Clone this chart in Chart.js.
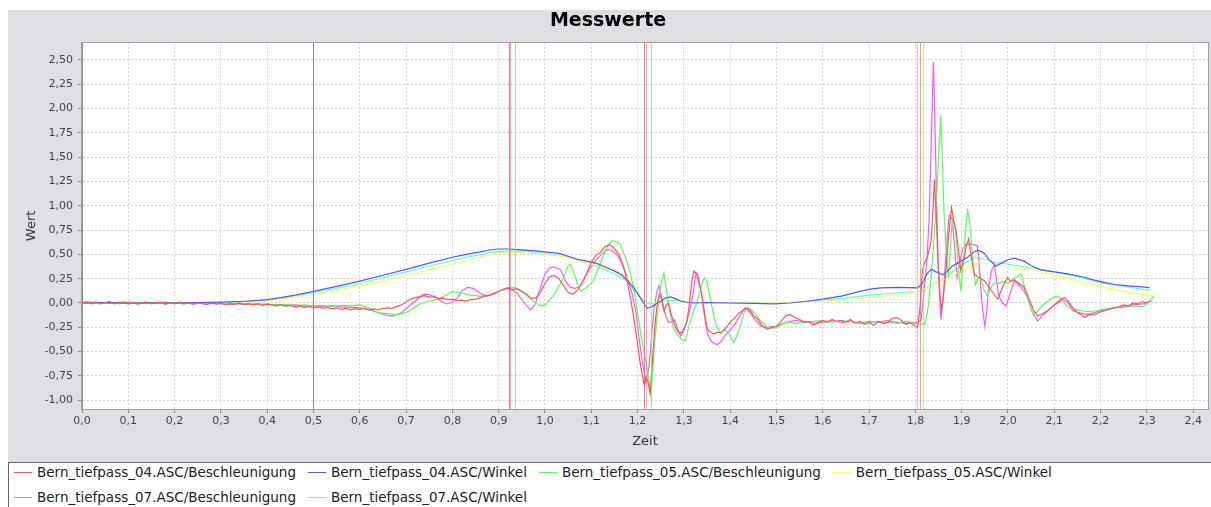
<!DOCTYPE html>
<html lang="de">
<head>
<meta charset="utf-8">
<title>Messwerte</title>
<script src="https://cdn.jsdelivr.net/npm/chart.js@4.4.1/dist/chart.umd.min.js"></script>
<style>
  html, body { margin: 0; padding: 0; background: #fff; }
  body { width: 1211px; height: 507px; position: relative; overflow: hidden; font-family: 'DejaVu Sans', sans-serif; }
  #panel { position: absolute; left: 8px; top: 10px; width: 1203px; height: 452px; background: #dfdfe3; }
  #legend {
    position: absolute; left: 8px; top: 462px; width: 1210px; height: 50px;
    background: #fff; border-top: 1px solid #666; border-left: 1px solid #666;
    box-sizing: border-box; padding: 0 0 0 5px;
    display: flex; flex-wrap: wrap; align-content: flex-start; row-gap: 7px;
    font-size: 13.5px; color: #222;
  }
  .item { display: flex; align-items: center; height: 18px; margin-right: 12px; white-space: nowrap; }
  .swatch { width: 18px; height: 1px; margin-right: 5px; }
</style>
</head>
<body>
<div id="panel"><canvas id="chart" width="1203" height="452"></canvas></div>
<div id="legend"></div>
<script>
// series names and colours (legend order)
const seriesNames = [
  'Bern_tiefpass_04.ASC/Beschleunigung',
  'Bern_tiefpass_04.ASC/Winkel',
  'Bern_tiefpass_05.ASC/Beschleunigung',
  'Bern_tiefpass_05.ASC/Winkel',
  'Bern_tiefpass_07.ASC/Beschleunigung',
  'Bern_tiefpass_07.ASC/Winkel'
];
const seriesColors = ['#ff5555', '#5555ff', '#55ff55', '#ffff55', '#ff55ff', '#55ffff'];

const xTicks = [0, 0.1, 0.2, 0.3, 0.4, 0.5, 0.6, 0.7, 0.8, 0.9, 1.0, 1.1, 1.2,
                1.3, 1.4, 1.5, 1.6, 1.7, 1.8, 1.9, 2.0, 2.1, 2.2, 2.3, 2.4];
const yTicks = [-1, -0.75, -0.5, -0.25, 0, 0.25, 0.5, 0.75, 1, 1.25, 1.5, 1.75, 2, 2.25, 2.5];

// marker lines (Zeit) and their colours
const markerTimes  = [0.5, 0.922, 0.925, 0.936, 1.214, 1.219, 1.229, 1.804, 1.809, 1.816];
const markerColors = ['#c8708e', 'rgba(255,85,85,0.8)', 'rgba(255,85,255,0.6)', 'rgba(85,255,85,0.7)',
                      'rgba(255,85,85,0.8)', 'rgba(255,85,255,0.6)', 'rgba(85,255,85,0.7)',
                      'rgba(255,85,255,0.5)', 'rgba(255,85,85,0.6)', 'rgba(85,255,85,0.6)'];

// [Zeit, Wert]
const acc04 = [
  [0,0.00],[0.01,0.015],[0.02,-0.005],[0.03,0.01],[0.04,-0.01],[0.05,0.005],[0.06,0.015],[0.07,-0.01],
  [0.08,0.0],[0.09,0.012],[0.10,-0.008],[0.11,0.006],[0.12,-0.012],[0.13,0.004],[0.14,0.01],[0.15,-0.01],
  [0.16,0.0],[0.17,0.008],[0.18,-0.014],[0.19,0.002],[0.20,-0.006],[0.21,0.008],[0.22,-0.01],[0.23,0.0],
  [0.24,-0.012],[0.25,0.004],[0.26,-0.008],[0.27,-0.016],[0.28,0.0],[0.29,-0.012],[0.30,-0.004],[0.31,-0.018],
  [0.32,-0.006],[0.33,-0.014],[0.34,-0.002],[0.35,-0.016],[0.36,-0.008],[0.37,-0.02],[0.38,-0.01],[0.39,-0.024],
  [0.40,-0.012],[0.41,-0.02],[0.42,-0.03],[0.43,-0.018],[0.44,-0.034],[0.45,-0.026],[0.46,-0.04],[0.47,-0.03],
  [0.48,-0.045],[0.49,-0.035],[0.50,-0.05],[0.51,-0.04],[0.52,-0.055],[0.53,-0.045],[0.54,-0.06],[0.55,-0.05],
  [0.56,-0.065],[0.57,-0.055],[0.58,-0.07],[0.59,-0.058],[0.60,-0.066],[0.61,-0.052],[0.62,-0.07],[0.63,-0.06],
  [0.64,-0.072],[0.65,-0.058],[0.66,-0.05],[0.67,-0.055],[0.68,-0.035],[0.69,-0.02],[0.70,0.01],[0.71,0.04],
  [0.72,0.055],[0.73,0.065],[0.74,0.075],[0.75,0.06],[0.76,0.065],[0.77,0.045],[0.78,0.05],[0.79,0.035],
  [0.80,0.04],[0.81,0.025],[0.82,0.03],[0.83,0.02],[0.84,0.035],[0.85,0.04],[0.86,0.055],[0.87,0.07],
  [0.88,0.08],[0.89,0.1],[0.90,0.12],[0.91,0.14],[0.92,0.155],[0.93,0.14],[0.94,0.145],[0.95,0.12],
  [0.96,0.09],[0.97,0.05],[0.98,0.05],[0.99,0.11],[1.00,0.2],[1.01,0.27],[1.02,0.28],[1.03,0.25],
  [1.04,0.18],[1.05,0.11],[1.06,0.09],[1.07,0.13],[1.08,0.2],[1.09,0.3],[1.10,0.42],[1.11,0.49],
  [1.12,0.52],[1.13,0.58],[1.14,0.6],[1.15,0.56],[1.16,0.5],[1.17,0.37],[1.18,0.17],[1.19,-0.1],
  [1.20,-0.42],[1.205,-0.6],[1.21,-0.74],[1.214,-0.84],[1.218,-0.76],[1.222,-0.8],[1.227,-0.93],[1.232,-0.6],
  [1.237,-0.25],[1.243,0.02],[1.248,0.09],[1.252,0.04],[1.257,-0.08],[1.262,-0.02],[1.267,0.0],[1.273,-0.12],
  [1.279,-0.22],[1.285,-0.28],[1.29,-0.31],[1.296,-0.3],[1.302,-0.25],[1.307,-0.18],[1.312,0.0],[1.317,0.22],
  [1.322,0.33],[1.327,0.3],[1.333,0.2],[1.34,0.055],[1.346,-0.15],[1.351,-0.27],[1.358,-0.3],[1.365,-0.32],
  [1.372,-0.3],[1.38,-0.31],[1.39,-0.26],[1.40,-0.2],[1.41,-0.15],[1.42,-0.1],[1.43,-0.07],[1.437,-0.05],
  [1.445,-0.09],[1.45,-0.13],[1.46,-0.17],[1.47,-0.24],[1.48,-0.27],[1.49,-0.25],[1.50,-0.24],[1.51,-0.19],
  [1.52,-0.13],[1.53,-0.12],[1.54,-0.15],[1.55,-0.17],[1.56,-0.2],[1.57,-0.19],[1.58,-0.23],[1.59,-0.2],
  [1.60,-0.18],[1.61,-0.2],[1.62,-0.17],[1.63,-0.19],[1.64,-0.18],[1.65,-0.2],[1.66,-0.17],[1.67,-0.21],
  [1.68,-0.19],[1.69,-0.22],[1.70,-0.2],[1.71,-0.23],[1.72,-0.19],[1.73,-0.21],[1.74,-0.2],[1.75,-0.16],
  [1.76,-0.15],[1.77,-0.18],[1.78,-0.22],[1.79,-0.2],[1.80,-0.24],[1.805,-0.25],[1.81,-0.05],[1.815,0.33],
  [1.82,0.42],[1.826,0.47],[1.83,0.55],[1.834,0.64],[1.838,0.95],[1.841,1.27],[1.845,0.9],[1.849,0.4],
  [1.853,0.1],[1.856,-0.065],[1.86,0.05],[1.866,0.33],[1.872,0.7],[1.878,0.98],[1.883,0.85],[1.888,0.74],
  [1.893,0.55],[1.898,0.33],[1.905,0.45],[1.91,0.58],[1.915,0.66],[1.92,0.5],[1.927,0.3],[1.935,0.27],
  [1.942,0.25],[1.949,0.23],[1.958,0.17],[1.968,0.1],[1.978,0.04],[1.988,0.16],[1.999,0.26],[2.006,0.22],
  [2.014,0.24],[2.024,0.2],[2.035,0.16],[2.045,0.05],[2.055,-0.07],[2.064,-0.134],[2.075,-0.11],[2.086,-0.08],
  [2.095,-0.04],[2.105,0.0],[2.115,0.04],[2.122,0.055],[2.13,0.02],[2.14,-0.05],[2.15,-0.1],[2.158,-0.117],
  [2.165,-0.15],[2.175,-0.12],[2.187,-0.12],[2.2,-0.09],[2.21,-0.08],[2.22,-0.06],[2.23,-0.048],[2.24,-0.04],
  [2.25,-0.02],[2.26,-0.03],[2.27,0.0],[2.28,-0.01],[2.29,0.015],[2.30,0.003],[2.31,0.02]
];

const ang04 = [
  [0,0.0],[0.05,0.003],[0.1,-0.002],[0.15,0.002],[0.2,0.0],[0.25,0.003],[0.3,0.008],[0.35,0.018],
  [0.4,0.035],[0.43,0.055],[0.46,0.08],[0.5,0.12],[0.55,0.17],[0.6,0.225],[0.65,0.285],[0.7,0.345],
  [0.75,0.41],[0.8,0.47],[0.83,0.5],[0.86,0.525],[0.88,0.545],[0.9,0.555],[0.92,0.555],[0.95,0.545],
  [0.98,0.535],[1.0,0.525],[1.03,0.51],[1.05,0.48],[1.07,0.45],[1.09,0.43],[1.11,0.41],[1.13,0.37],
  [1.15,0.33],[1.165,0.29],[1.18,0.22],[1.192,0.155],[1.205,0.06],[1.213,0.0],[1.221,-0.055],[1.23,-0.04],
  [1.24,-0.01],[1.25,0.02],[1.26,0.05],[1.271,0.062],[1.282,0.045],[1.293,0.02],[1.31,0.005],[1.322,0.0],
  [1.35,0.005],[1.4,0.0],[1.45,-0.005],[1.495,-0.01],[1.53,0.0],[1.56,0.015],[1.6,0.04],[1.64,0.07],
  [1.68,0.12],[1.7,0.14],[1.725,0.155],[1.76,0.16],[1.805,0.155],[1.815,0.2],[1.825,0.3],[1.834,0.345],
  [1.845,0.32],[1.859,0.29],[1.87,0.33],[1.88,0.38],[1.895,0.42],[1.913,0.47],[1.925,0.52],[1.934,0.54],
  [1.942,0.53],[1.949,0.51],[1.96,0.44],[1.974,0.38],[1.99,0.42],[2.0,0.445],[2.014,0.46],[2.035,0.43],
  [2.05,0.385],[2.071,0.34],[2.1,0.32],[2.129,0.3],[2.16,0.27],[2.187,0.235],[2.21,0.21],[2.23,0.19],
  [2.26,0.175],[2.29,0.165],[2.306,0.158]
];

const acc05 = [
  [0,0.005],[0.02,-0.01],[0.04,0.01],[0.06,-0.005],[0.08,0.008],[0.10,-0.01],[0.12,0.006],[0.14,-0.006],
  [0.16,0.01],[0.18,-0.008],[0.20,0.004],[0.22,-0.01],[0.24,0.005],[0.26,-0.006],[0.28,0.004],[0.30,-0.01],
  [0.32,0.0],[0.34,-0.012],[0.36,-0.004],[0.38,-0.014],[0.40,-0.01],[0.42,-0.02],[0.44,-0.015],[0.46,-0.028],
  [0.48,-0.02],[0.50,-0.03],[0.52,-0.025],[0.54,-0.035],[0.56,-0.025],[0.58,-0.03],[0.60,-0.02],[0.62,-0.05],
  [0.64,-0.1],[0.66,-0.11],[0.68,-0.12],[0.70,-0.1],[0.72,-0.04],[0.73,-0.01],[0.75,0.02],[0.77,0.04],
  [0.79,0.09],[0.80,0.12],[0.82,0.1],[0.84,0.08],[0.86,0.07],[0.88,0.08],[0.90,0.12],[0.925,0.165],
  [0.94,0.15],[0.96,0.08],[0.975,0.02],[0.99,-0.03],[1.00,-0.02],[1.01,0.03],[1.02,0.09],[1.03,0.17],
  [1.04,0.26],[1.05,0.38],[1.055,0.4],[1.062,0.32],[1.07,0.2],[1.077,0.12],[1.09,0.16],[1.105,0.23],
  [1.115,0.35],[1.127,0.5],[1.137,0.6],[1.145,0.64],[1.155,0.63],[1.163,0.6],[1.175,0.45],[1.185,0.3],
  [1.195,0.05],[1.207,-0.32],[1.213,-0.48],[1.218,-0.6],[1.223,-0.75],[1.229,-0.95],[1.233,-0.7],[1.237,-0.4],
  [1.243,-0.1],[1.25,0.19],[1.257,0.31],[1.262,0.15],[1.268,-0.05],[1.274,-0.2],[1.279,-0.27],[1.29,-0.35],
  [1.297,-0.38],[1.303,-0.39],[1.31,-0.25],[1.32,-0.1],[1.328,0.0],[1.336,0.14],[1.344,0.26],[1.35,0.22],
  [1.357,0.05],[1.365,-0.14],[1.372,-0.25],[1.379,-0.31],[1.387,-0.28],[1.394,-0.29],[1.401,-0.35],[1.408,-0.41],
  [1.415,-0.33],[1.423,-0.22],[1.43,-0.1],[1.437,-0.05],[1.445,-0.07],[1.455,-0.12],[1.465,-0.18],[1.48,-0.25],
  [1.49,-0.26],[1.502,-0.255],[1.512,-0.22],[1.524,-0.19],[1.54,-0.21],[1.56,-0.2],[1.58,-0.19],[1.60,-0.18],
  [1.62,-0.2],[1.64,-0.18],[1.66,-0.19],[1.68,-0.21],[1.70,-0.2],[1.72,-0.19],[1.74,-0.2],[1.76,-0.21],
  [1.78,-0.19],[1.80,-0.21],[1.82,-0.22],[1.826,-0.1],[1.83,0.055],[1.836,0.4],[1.844,0.92],[1.85,1.5],
  [1.855,1.93],[1.858,1.5],[1.862,0.92],[1.867,0.5],[1.871,0.26],[1.876,0.6],[1.880,0.88],[1.884,0.82],
  [1.888,0.67],[1.893,0.35],[1.898,0.124],[1.905,0.5],[1.91,0.85],[1.913,0.95],[1.917,0.85],[1.921,0.62],
  [1.926,0.35],[1.93,0.19],[1.935,0.25],[1.94,0.28],[1.947,0.15],[1.955,0.07],[1.962,0.15],[1.97,0.21],
  [1.98,0.2],[1.99,0.22],[2.0,0.2],[2.01,0.25],[2.02,0.27],[2.028,0.3],[2.035,0.18],[2.042,0.06],
  [2.05,-0.06],[2.055,-0.12],[2.065,-0.08],[2.078,-0.01],[2.09,0.03],[2.1,0.06],[2.107,0.07],[2.115,0.04],
  [2.125,-0.02],[2.136,-0.06],[2.15,-0.07],[2.17,-0.09],[2.19,-0.08],[2.21,-0.06],[2.23,-0.05],[2.25,-0.045],
  [2.27,-0.03],[2.29,-0.04],[2.3,-0.01],[2.31,0.04],[2.315,0.07]
];

const ang05 = [
  [0,0.0],[0.1,0.0],[0.2,-0.003],[0.3,-0.005],[0.35,0.0],[0.4,0.02],[0.43,0.04],[0.5,0.09],
  [0.55,0.13],[0.6,0.175],[0.65,0.225],[0.7,0.28],[0.75,0.34],[0.8,0.40],[0.85,0.46],[0.9,0.515],
  [0.95,0.52],[1.0,0.50],[1.04,0.475],[1.1,0.4],[1.15,0.33],[1.178,0.26],[1.195,0.16],[1.205,0.08],
  [1.213,0.04],[1.23,0.0],[1.3,0.0],[1.4,0.0],[1.5,0.0],[1.6,0.02],[1.65,0.035],[1.7,0.055],
  [1.75,0.08],[1.805,0.12],[1.84,0.19],[1.87,0.26],[1.9,0.33],[1.94,0.415],[1.97,0.40],[2.0,0.37],
  [2.05,0.34],[2.086,0.31],[2.15,0.23],[2.2,0.17],[2.25,0.12],[2.316,0.07]
];

const acc07 = [
  [0,0.0],[0.02,0.01],[0.04,-0.008],[0.06,0.006],[0.08,-0.006],[0.10,0.008],[0.12,-0.01],[0.14,0.004],
  [0.16,-0.006],[0.18,0.008],[0.20,-0.008],[0.22,0.004],[0.24,-0.01],[0.26,0.002],[0.28,-0.008],[0.30,0.0],
  [0.32,-0.012],[0.34,-0.004],[0.36,-0.014],[0.38,-0.01],[0.40,-0.018],[0.42,-0.015],[0.44,-0.025],[0.46,-0.02],
  [0.48,-0.03],[0.50,-0.03],[0.52,-0.035],[0.54,-0.03],[0.56,-0.04],[0.58,-0.045],[0.60,-0.05],[0.62,-0.07],
  [0.64,-0.1],[0.66,-0.13],[0.67,-0.135],[0.69,-0.1],[0.70,-0.06],[0.72,0.02],[0.738,0.09],[0.75,0.085],
  [0.76,0.07],[0.775,0.02],[0.789,-0.01],[0.80,0.01],[0.81,0.05],[0.82,0.12],[0.832,0.16],[0.845,0.15],
  [0.86,0.1],[0.875,0.07],[0.89,0.09],[0.905,0.13],[0.918,0.15],[0.93,0.13],[0.94,0.1],[0.955,0.0],
  [0.969,-0.07],[0.978,-0.02],[0.99,0.15],[1.0,0.3],[1.01,0.36],[1.02,0.37],[1.034,0.34],[1.045,0.22],
  [1.055,0.16],[1.065,0.15],[1.075,0.17],[1.087,0.27],[1.098,0.36],[1.11,0.44],[1.122,0.5],[1.134,0.55],
  [1.145,0.54],[1.155,0.5],[1.165,0.42],[1.178,0.26],[1.188,0.1],[1.196,-0.08],[1.203,-0.35],[1.21,-0.6],
  [1.218,-0.82],[1.225,-0.65],[1.23,-0.35],[1.235,-0.08],[1.241,0.1],[1.246,0.175],[1.251,0.08],[1.256,-0.05],
  [1.262,-0.15],[1.267,-0.2],[1.274,-0.19],[1.28,-0.17],[1.287,-0.27],[1.293,-0.34],[1.3,-0.28],[1.307,-0.18],
  [1.314,-0.05],[1.32,0.1],[1.325,0.28],[1.328,0.31],[1.332,0.25],[1.338,0.1],[1.344,-0.12],[1.351,-0.32],
  [1.36,-0.4],[1.372,-0.43],[1.38,-0.4],[1.39,-0.33],[1.4,-0.28],[1.41,-0.22],[1.42,-0.14],[1.432,-0.05],
  [1.443,-0.1],[1.455,-0.18],[1.467,-0.24],[1.48,-0.25],[1.5,-0.24],[1.52,-0.2],[1.54,-0.18],[1.56,-0.19],
  [1.58,-0.21],[1.60,-0.2],[1.62,-0.18],[1.64,-0.2],[1.66,-0.19],[1.68,-0.21],[1.70,-0.19],[1.72,-0.2],
  [1.74,-0.18],[1.76,-0.2],[1.78,-0.21],[1.80,-0.2],[1.812,-0.18],[1.819,0.13],[1.825,0.45],[1.83,0.9],
  [1.834,1.6],[1.839,2.48],[1.842,1.9],[1.846,1.0],[1.85,0.3],[1.855,-0.17],[1.86,0.05],[1.864,0.35],
  [1.869,0.7],[1.873,0.9],[1.88,0.86],[1.885,0.55],[1.89,0.26],[1.896,0.42],[1.902,0.55],[1.909,0.6],
  [1.916,0.61],[1.925,0.6],[1.934,0.59],[1.937,0.45],[1.94,0.23],[1.945,-0.05],[1.95,-0.24],[1.954,-0.1],
  [1.958,0.15],[1.964,0.32],[1.97,0.4],[1.975,0.25],[1.98,0.07],[1.988,0.0],[1.996,-0.03],[2.005,0.1],
  [2.014,0.23],[2.02,0.2],[2.028,0.16],[2.035,0.12],[2.042,0.055],[2.052,-0.08],[2.064,-0.186],[2.075,-0.13],
  [2.086,-0.08],[2.1,-0.02],[2.12,0.03],[2.13,0.0],[2.14,-0.08],[2.155,-0.1],[2.17,-0.12],[2.185,-0.1],
  [2.2,-0.08],[2.215,-0.07],[2.23,-0.05],[2.25,-0.04],[2.27,-0.02],[2.29,-0.01],[2.30,0.0]
];

const ang07 = [
  [0,0.0],[0.1,0.0],[0.2,0.0],[0.3,0.0],[0.35,0.01],[0.4,0.025],[0.45,0.06],[0.5,0.105],
  [0.55,0.15],[0.6,0.2],[0.65,0.26],[0.7,0.32],[0.75,0.38],[0.8,0.435],[0.85,0.49],[0.9,0.53],
  [0.95,0.535],[1.0,0.51],[1.05,0.47],[1.1,0.4],[1.15,0.3],[1.175,0.23],[1.195,0.12],[1.21,0.03],
  [1.22,0.0],[1.235,-0.01],[1.26,0.02],[1.28,0.03],[1.3,0.01],[1.35,0.0],[1.45,0.0],[1.5,0.0],
  [1.55,0.01],[1.6,0.03],[1.65,0.05],[1.7,0.08],[1.75,0.1],[1.805,0.12],[1.83,0.17],[1.86,0.25],
  [1.89,0.35],[1.91,0.42],[1.93,0.47],[1.95,0.45],[1.97,0.42],[2.0,0.40],[2.05,0.36],[2.1,0.32],
  [2.15,0.27],[2.2,0.21],[2.25,0.17],[2.306,0.13]
];

const seriesData = [acc04, ang04, acc05, ang05, acc07, ang07];

const fmt = (v, d) => v.toFixed(d).replace('.', ',');

// legend below the plot
const legendEl = document.getElementById('legend');
seriesNames.forEach((name, i) => {
  const item = document.createElement('div');
  item.className = 'item';
  item.innerHTML = `<span class="swatch" style="background:${seriesColors[i]}"></span><span>${name}</span>`;
  legendEl.appendChild(item);
});

// vertical marker lines over the plot
const markerLines = {
  id: 'markerLines',
  afterDatasetsDraw(chart) {
    const { ctx, chartArea: a, scales: { x } } = chart;
    ctx.save();
    ctx.lineWidth = 1;
    markerTimes.forEach((t, i) => {
      const px = Math.round(x.getPixelForValue(t)) + 0.5;
      ctx.strokeStyle = markerColors[i];
      ctx.beginPath();
      ctx.moveTo(px, a.top);
      ctx.lineTo(px, a.bottom);
      ctx.stroke();
    });
    ctx.restore();
  }
};

// white plot background and grey frame
const plotFrame = {
  id: 'plotFrame',
  beforeDraw(chart) {
    const { ctx, chartArea: a } = chart;
    ctx.save();
    ctx.fillStyle = '#ffffff';
    ctx.fillRect(a.left, a.top, a.right - a.left, a.bottom - a.top);
    ctx.restore();
  },
  afterDraw(chart) {
    const { ctx, chartArea: a } = chart;
    ctx.save();
    ctx.strokeStyle = '#a0a0a0';
    ctx.lineWidth = 1;
    ctx.strokeRect(Math.round(a.left) - 0.5, Math.round(a.top) - 0.5,
                   Math.round(a.right - a.left) + 1, Math.round(a.bottom - a.top) + 1);
    ctx.restore();
  }
};

Chart.defaults.font.family = "'DejaVu Sans', sans-serif";

new Chart(document.getElementById('chart'), {
  type: 'scatter',
  data: {
    datasets: seriesData.map((rows, i) => ({
      label: seriesNames[i],
      data: rows.map(r => ({ x: r[0], y: r[1] })),
      showLine: true,
      borderColor: seriesColors[i],
      backgroundColor: seriesColors[i],
      borderWidth: 1.2,
      pointRadius: 0,
      tension: 0
    }))
  },
  options: {
    responsive: false,
    animation: false,
    events: [],
    layout: { padding: { left: 0, right: 3, top: 0, bottom: 0 } },
    plugins: {
      legend: { display: false },
      tooltip: { enabled: false },
      title: {
        display: true,
        text: 'Messwerte',
        color: '#000',
        font: { size: 19, weight: 'bold' },
        padding: { top: 0, bottom: 10 }
      }
    },
    scales: {
      x: {
        type: 'linear',
        min: 0,
        max: 2.432,
        afterBuildTicks: s => { s.ticks = xTicks.map(v => ({ value: v })); },
        afterFit: s => { s.height = 53; },
        ticks: { color: '#444', font: { size: 11 }, padding: 2, maxRotation: 0, autoSkip: false,
                 callback: v => fmt(v, 1) },
        grid: { color: '#d6d6d6', tickColor: '#909090', tickLength: 4, tickBorderDash: [] },
        border: { color: '#909090', dash: [2, 2] },
        title: { display: true, text: 'Zeit', color: '#333', font: { size: 13 }, padding: { top: 0, bottom: 13 } }
      },
      y: {
        type: 'linear',
        min: -1.09,
        max: 2.675,
        afterBuildTicks: s => { s.ticks = yTicks.map(v => ({ value: v })); },
        afterFit: s => { s.width = 74; },
        ticks: { color: '#444', font: { size: 11 }, padding: 5, autoSkip: false,
                 callback: v => fmt(v, 2) },
        grid: { color: '#d6d6d6', tickColor: '#909090', tickLength: 4, tickBorderDash: [] },
        border: { color: '#909090', dash: [2, 2] },
        title: { display: true, text: 'Wert', color: '#333', font: { size: 13 }, padding: { top: 16, bottom: 0 } }
      }
    }
  },
  plugins: [plotFrame, markerLines]
});
</script>
</body>
</html>
